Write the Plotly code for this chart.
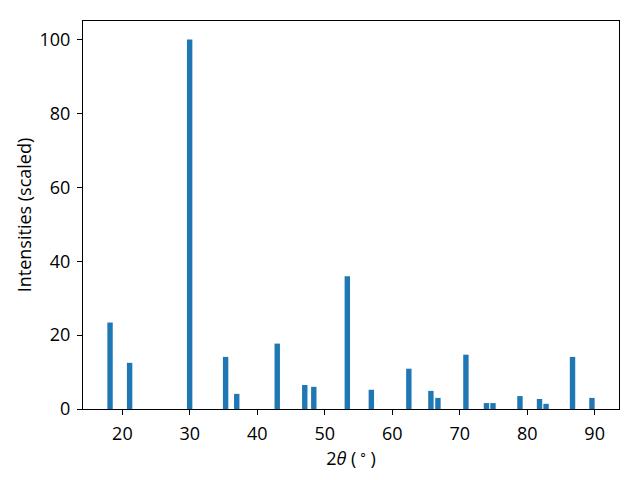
import plotly.graph_objects as go

two_theta = [18.17, 21.07, 29.97, 35.3, 36.95, 42.95, 47.03, 48.37, 53.34, 56.9,
             62.46, 65.73, 66.77, 70.92, 73.96, 74.93, 78.93, 81.83, 82.8, 86.72, 89.6]
intensity = [23.4, 12.5, 100.0, 14.1, 4.1, 17.7, 6.5, 6.0, 35.9, 5.2,
             10.9, 4.9, 3.0, 14.7, 1.6, 1.6, 3.5, 2.7, 1.4, 14.1, 3.0]
x_ticks = [20, 30, 40, 50, 60, 70, 80, 90]
y_ticks = [0, 20, 40, 60, 80, 100]

fig = go.Figure(go.Bar(x=two_theta, y=intensity, width=0.8,
                       marker=dict(color="#1f77b4", line=dict(width=0))))

font = dict(family="Open Sans", size=18, color="black")
axis_common = dict(showline=True, linecolor="black", linewidth=1, mirror=True,
                   ticks="outside", ticklen=5, tickwidth=1, tickcolor="black",
                   showgrid=False, zeroline=False, tickfont=font,
                   ticklabelstandoff=3)
fig.update_layout(
    width=632, height=472,
    margin=dict(l=75, r=21, t=13, b=71),
    plot_bgcolor="white", paper_bgcolor="white",
    showlegend=False,
    xaxis=dict(range=[14.16, 93.61], tickvals=x_ticks,
               title=dict(text="2<i>θ</i> (\u2009<sup>∘</sup>\u2009)", font=font, standoff=0),
               **axis_common),
    yaxis=dict(range=[0, 105], tickvals=y_ticks,
               title=dict(text="Intensities (scaled)", font=font, standoff=3),
               **axis_common),
)
fig.write_html("out.html")
